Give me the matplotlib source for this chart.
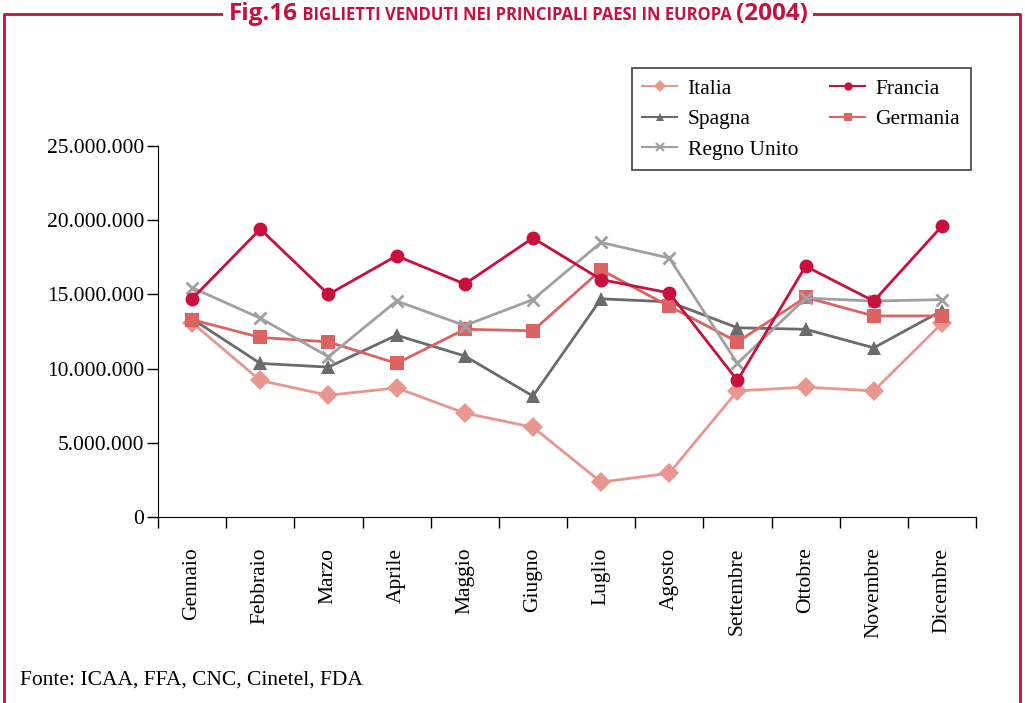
import numpy as np
import matplotlib.pyplot as plt
from matplotlib.ticker import FuncFormatter, FixedLocator
from matplotlib.offsetbox import TextArea, HPacker, AnnotationBbox
from matplotlib.lines import Line2D

# dati (biglietti venduti, 2004)
mesi = ['Gennaio', 'Febbraio', 'Marzo', 'Aprile', 'Maggio', 'Giugno',
        'Luglio', 'Agosto', 'Settembre', 'Ottobre', 'Novembre', 'Dicembre']
italia = [13.1, 9.2, 8.2, 8.7, 7.0, 6.05, 2.35, 2.95, 8.5, 8.75, 8.5, 13.05]
francia = [14.7, 19.4, 15.0, 17.6, 15.7, 18.8, 16.0, 15.1, 9.2, 16.9, 14.55, 19.6]
spagna = [13.35, 10.35, 10.1, 12.25, 10.85, 8.15, 14.7, 14.5, 12.75, 12.65, 11.4, 13.9]
germania = [13.3, 12.1, 11.8, 10.35, 12.65, 12.55, 16.65, 14.2, 11.8, 14.8, 13.55, 13.55]
regno_unito = [15.45, 13.4, 10.8, 14.55, 12.9, 14.65, 18.5, 17.45, 10.35, 14.75, 14.55, 14.65]

rosso = '#c8103e'
plt.rcParams['font.family'] = ['Liberation Serif', 'DejaVu Serif']
fs = 15.5

fig = plt.figure(figsize=(10.25, 7.03), dpi=100)
ax = fig.add_axes([158 / 1025, 1 - 517 / 703, 818 / 1025, 371 / 703])

x = np.arange(len(mesi))
serie = [
    ('Italia', italia, '#e8968f', 'D', 10),
    ('Spagna', spagna, '#6b6b6e', '^', 10),
    ('Regno Unito', regno_unito, '#a0a0a2', 'x', 9),
    ('Francia', francia, rosso, 'o', 10),
    ('Germania', germania, '#dd6363', 's', 10),
]
# ordine di disegno: Italia sotto, poi gli altri
ordine_z = {'Italia': 2, 'Spagna': 3, 'Germania': 4, 'Regno Unito': 5, 'Francia': 6}
handles = []
for nome, valori, col, mk, ms in serie:
    ax.plot(x, np.array(valori) * 1e6, color=col, lw=2, marker=mk, ms=ms,
            mew=2 if mk == 'x' else 0, mec=col, zorder=ordine_z[nome])
    handles.append(Line2D([], [], color=col, lw=1.5, marker=mk, ms=6,
                          mew=1.5 if mk == 'x' else 0, mec=col, label=nome))

ax.set_xlim(-0.5, len(mesi) - 0.5)
ax.set_ylim(0, 25e6)
ax.set_yticks(np.arange(0, 25e6 + 1, 5e6))
ax.yaxis.set_major_formatter(FuncFormatter(lambda v, p: f'{int(v):,}'.replace(',', '.')))
ax.set_xticks(x)
ax.set_xticklabels(mesi, rotation=90, va='top')
ax.xaxis.set_minor_locator(FixedLocator(np.arange(-0.5, len(mesi), 1)))
ax.tick_params(axis='x', which='major', length=0, pad=22, labelsize=fs)
ax.tick_params(axis='x', which='minor', length=8, width=1)
ax.tick_params(axis='y', length=8, width=1, labelsize=fs, pad=2)
for s in ['top', 'right']:
    ax.spines[s].set_visible(False)

fig.legend(handles=handles, ncol=2, loc='upper right',
           bbox_to_anchor=(971 / 1025, 1 - 68 / 703), fontsize=fs,
           frameon=True, fancybox=False, edgecolor='#222222',
           handlelength=1.6, handletextpad=0.5, columnspacing=1.5, borderpad=0.5,
           labelspacing=0.48, borderaxespad=0).get_frame().set_linewidth(1.3)

# cornice rossa
fig.add_artist(plt.Line2D([4 / 1025, 4 / 1025, 1020 / 1025, 1020 / 1025],
                          [-0.1, 1 - 14 / 703, 1 - 14 / 703, -0.1],
                          transform=fig.transFigure, color=rosso, lw=2))

# titolo
titolo = HPacker(children=[
    TextArea('Fig.16', textprops=dict(color=rosso, fontsize=17.5, fontweight='bold', family='Open Sans')),
    TextArea(' BIGLIETTI VENDUTI NEI PRINCIPALI PAESI IN EUROPA ',
             textprops=dict(color=rosso, fontsize=12, fontweight='bold', family='Open Sans')),
    TextArea('(2004)', textprops=dict(color=rosso, fontsize=17.5, fontweight='bold', family='Open Sans')),
], align='baseline', pad=0, sep=0)
ab = AnnotationBbox(titolo, (518 / 1025, 1 - 14 / 703), xycoords='figure fraction',
                    frameon=True, pad=0.4, bboxprops=dict(facecolor='white', edgecolor='none'))
fig.add_artist(ab)

fig.text(20 / 1025, 1 - 680 / 703, 'Fonte: ICAA, FFA, CNC, Cinetel, FDA', fontsize=fs, va='center')

fig.savefig('out.png', dpi=100)
